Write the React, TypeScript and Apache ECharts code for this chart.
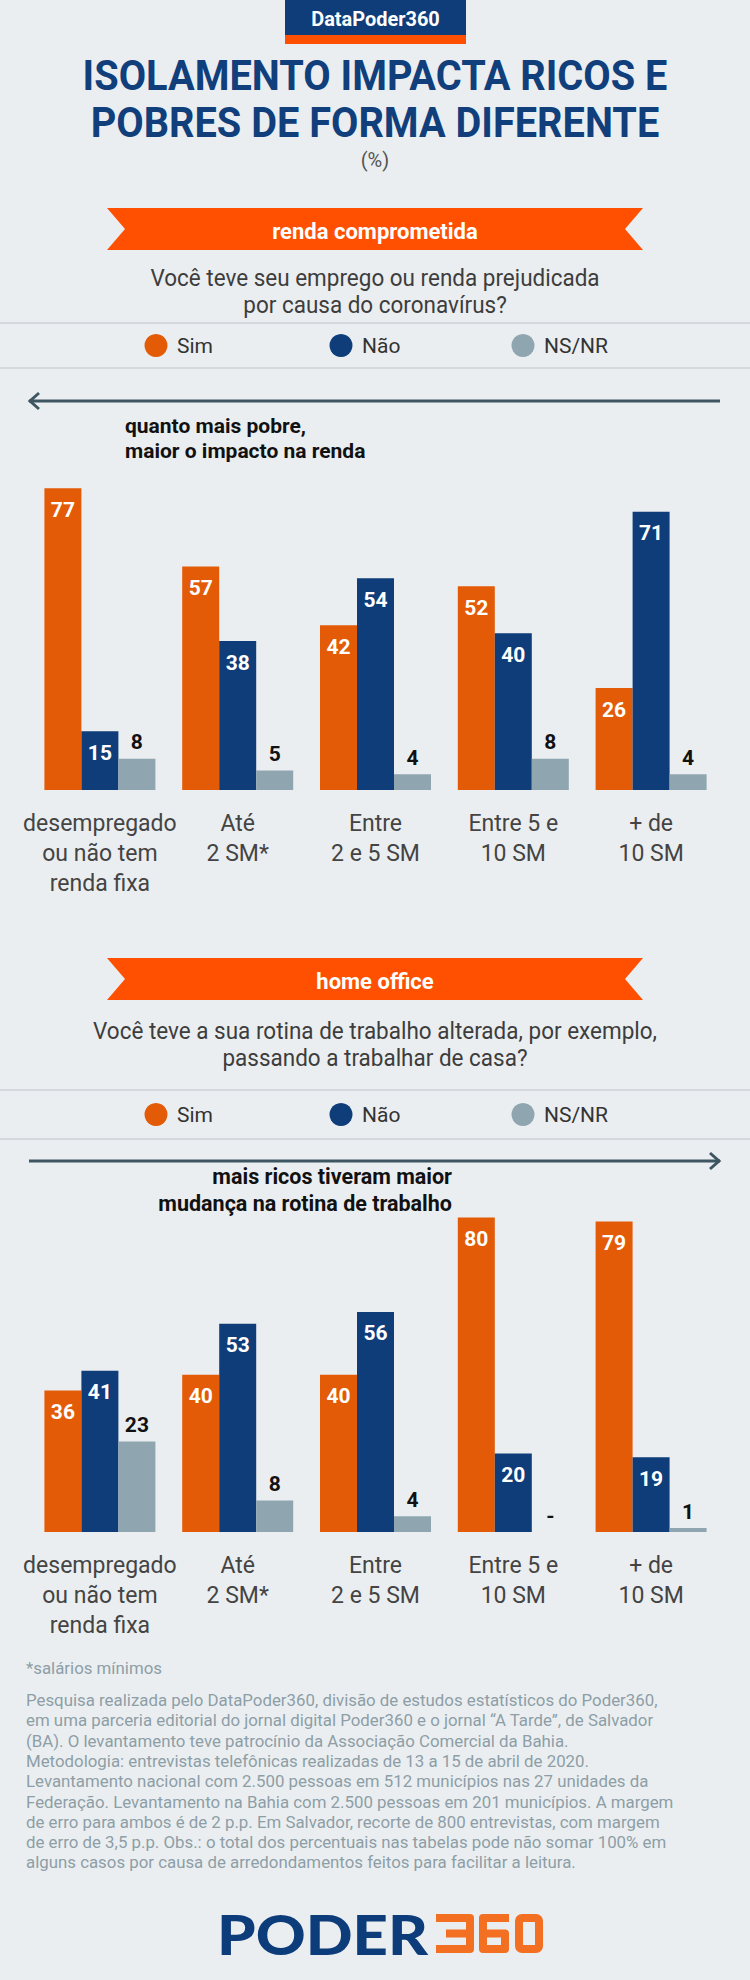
import React, { useEffect, useRef } from "react";
import * as echarts from "echarts";

// ---- data ----
const categories = [
  "desempregado\nou não tem\nrenda fixa",
  "Até\n2 SM*",
  "Entre\n2 e 5 SM",
  "Entre 5 e\n10 SM",
  "+ de\n10 SM",
];
const legendLabels = ["Sim", "Não", "NS/NR"];

// renda comprometida
const rendaSim = [77, 57, 42, 52, 26];
const rendaNao = [15, 38, 54, 40, 71];
const rendaNsnr = [8, 5, 4, 8, 4];

// home office (0 = sem resposta, shown as "-")
const homeSim = [36, 40, 40, 80, 79];
const homeNao = [41, 53, 56, 20, 19];
const homeNsnr = [23, 8, 4, 0, 1];

const footnote = "*salários mínimos";
const methodology = [
  "Pesquisa realizada pelo DataPoder360, divisão de estudos estatísticos do Poder360,",
  "em uma parceria editorial do jornal digital Poder360 e o jornal “A Tarde”, de Salvador",
  "(BA). O levantamento teve patrocínio da Associação Comercial da Bahia.",
  "Metodologia: entrevistas telefônicas realizadas de 13 a 15 de abril de 2020.",
  "Levantamento nacional com 2.500 pessoas em 512 municípios nas 27 unidades da",
  "Federação. Levantamento na Bahia com 2.500 pessoas em 201 municípios. A margem",
  "de erro para ambos é de 2 p.p. Em Salvador, recorte de 800 entrevistas, com margem",
  "de erro de 3,5 p.p. Obs.: o total dos percentuais nas tabelas pode não somar 100% em",
  "alguns casos por causa de arredondamentos feitos para facilitar a leitura.",
];

// ---- styling ----
const BG = "#ebeef0";
const SIM = "#e35b06";
const NAO = "#0e3d7a";
const NSNR = "#8fa6b1";
const NAVY = "#113f7c";
const BANNER = "#fe5000";
const TEXT = "#3d3d3d";
const FOOT = "#8d9ea7";
const ARROW = "#3d5661";

const measureCtx = document.createElement("canvas").getContext("2d");
function measure(text: string, size: number, weight: string, family: string) {
  if (!measureCtx) return 0;
  measureCtx.font = `${weight} ${size}px ${family}`;
  return measureCtx.measureText(text).width;
}

type TxtOpts = {
  size: number;
  weight?: string;
  family?: string;
  color: string;
  align?: string;
  va?: string;
  scale?: number;
};

function txt(text: string, x: number, y: number, o: TxtOpts) {
  const align = o.align || "center";
  const va = o.va || "middle";
  return {
    type: "text",
    x,
    y,
    scaleX: o.scale || 1,
    silent: true,
    style: {
      text,
      fill: o.color,
      fontSize: o.size,
      fontWeight: o.weight || "normal",
      fontFamily: o.family || "Roboto",
      align,
      verticalAlign: va,
      textAlign: align,
      textVerticalAlign: va,
    },
  };
}

function banner(top: number, label: string) {
  const b = top + 42;
  const m = top + 21;
  return [
    {
      type: "polygon",
      silent: true,
      shape: {
        points: [
          [107, top],
          [643, top],
          [625, m],
          [643, b],
          [107, b],
          [125, m],
        ],
      },
      style: { fill: BANNER },
    },
    txt(label, 375, m + 2, { size: 22, weight: "bold", color: "#ffffff" }),
  ];
}

function legendRow(lineTop: number, lineBottom: number) {
  const cy = (lineTop + lineBottom) / 2;
  const dots = [156, 341, 523];
  const colors = [SIM, NAO, NSNR];
  const els: any[] = [
    { type: "line", silent: true, shape: { x1: 0, y1: lineTop, x2: 750, y2: lineTop }, style: { stroke: "#d3d9dc", lineWidth: 2 } },
    { type: "line", silent: true, shape: { x1: 0, y1: lineBottom, x2: 750, y2: lineBottom }, style: { stroke: "#d3d9dc", lineWidth: 2 } },
  ];
  legendLabels.forEach((l, i) => {
    els.push({ type: "circle", silent: true, shape: { cx: dots[i], cy, r: 11.5 }, style: { fill: colors[i] } });
    els.push(txt(l, dots[i] + 21, cy, { size: 21, color: "#333", align: "left" }));
  });
  return els;
}

function arrow(y: number, dir: "left" | "right") {
  const chevron =
    dir === "left"
      ? [[39, y - 8], [30, y], [39, y + 8]]
      : [[710, y - 8], [719, y], [710, y + 8]];
  return [
    { type: "line", silent: true, shape: { x1: 29, y1: y, x2: 720, y2: y }, style: { stroke: ARROW, lineWidth: 3 } },
    { type: "polyline", silent: true, shape: { points: chevron }, style: { stroke: ARROW, lineWidth: 3, fill: null, lineJoin: "miter" } },
  ];
}

function buildGraphics() {
  const titleL1 = "ISOLAMENTO IMPACTA RICOS E";
  const titleL2 = "POBRES DE FORMA DIFERENTE";
  const titleScale = 585 / (measure(titleL1, 42, "bold", "Roboto") || 585);

  const q1 = ["Você teve seu emprego ou renda prejudicada", "por causa do coronavírus?"];
  const q2 = ["Você teve a sua rotina de trabalho alterada, por exemplo,", "passando a trabalhar de casa?"];
  const qScale = 564 / (measure(q2[0], 24, "normal", "Roboto") || 564);

  const footScale = 648 / (measure(methodology[5], 17, "normal", "Roboto") || 648);
  const poderScale = 211 / (measure("PODER", 56, "900", "Lato") || 211);

  const els: any[] = [];

  // header tag
  els.push({ type: "rect", silent: true, shape: { x: 285, y: 0, width: 181, height: 35 }, style: { fill: "#0f3d79" } });
  els.push({ type: "rect", silent: true, shape: { x: 285, y: 35, width: 181, height: 9 }, style: { fill: BANNER } });
  els.push(txt("DataPoder360", 375.5, 19, { size: 21, weight: "bold", color: "#ffffff", scale: 0.95 }));

  // title
  els.push(txt(titleL1, 375, 76, { size: 42, weight: "bold", color: NAVY, scale: titleScale }));
  els.push(txt(titleL2, 375, 123, { size: 42, weight: "bold", color: NAVY, scale: titleScale }));
  els.push(txt("(%)", 375, 160, { size: 20, color: "#555" }));

  // section 1
  els.push(...banner(208, "renda comprometida"));
  els.push(txt(q1[0], 375, 278, { size: 24, color: TEXT, scale: qScale }));
  els.push(txt(q1[1], 375, 305, { size: 24, color: TEXT, scale: qScale }));
  els.push(...legendRow(323, 368));
  els.push(...arrow(401, "left"));
  els.push(txt("quanto mais pobre,", 125, 426, { size: 21, weight: "bold", color: "#111", align: "left" }));
  els.push(txt("maior o impacto na renda", 125, 451, { size: 21, weight: "bold", color: "#111", align: "left" }));

  // section 2
  els.push(...banner(958, "home office"));
  els.push(txt(q2[0], 375, 1031, { size: 24, color: TEXT, scale: qScale }));
  els.push(txt(q2[1], 375, 1058, { size: 24, color: TEXT, scale: qScale }));
  els.push(...legendRow(1090, 1139));
  els.push(...arrow(1161, "right"));
  els.push(txt("mais ricos tiveram maior", 452, 1176, { size: 21.5, weight: "bold", color: "#111", align: "right" }));
  els.push(txt("mudança na rotina de trabalho", 452, 1203, { size: 21.5, weight: "bold", color: "#111", align: "right" }));

  // footer
  els.push(txt(footnote, 26, 1668, { size: 17, color: FOOT, align: "left", scale: footScale }));
  methodology.forEach((line, i) => {
    els.push(txt(line, 26, 1700 + i * 20.3, { size: 17, color: FOOT, align: "left", scale: footScale }));
  });

  // logo
  els.push(txt("PODER", 217, 1934, { size: 56, weight: "900", family: "Lato", color: "#0d3c7a", align: "left", scale: poderScale }));
  const orange = "#f36f21";
  const digit = { stroke: orange, lineWidth: 8, fill: null, lineJoin: "round", lineCap: "butt" };
  els.push({ type: "polyline", silent: true, shape: { points: [[436, 1918], [470, 1918], [470, 1949], [436, 1949]] }, style: digit });
  els.push({ type: "polyline", silent: true, shape: { points: [[446, 1933.5], [470, 1933.5]] }, style: digit });
  els.push({ type: "polyline", silent: true, shape: { points: [[509, 1918], [483, 1918], [483, 1949], [505, 1949], [505, 1933.5], [483, 1933.5]] }, style: digit });
  els.push({ type: "rect", silent: true, shape: { x: 519, y: 1918, width: 20, height: 31, r: 3 }, style: digit });

  return els;
}

const insideLabel = {
  show: true,
  position: "insideTop",
  distance: 11,
  color: "#ffffff",
  fontSize: 21,
  fontWeight: "bold",
  fontFamily: "Roboto",
};
const topLabel = {
  show: true,
  position: "top",
  distance: 6,
  color: "#111111",
  fontSize: 21,
  fontWeight: "bold",
  fontFamily: "Roboto",
  formatter: (p: any) => (p.value === 0 ? "-" : String(p.value)),
};

function barSeries(idx: number, sim: number[], nao: number[], nsnr: number[]) {
  const common = { type: "bar", xAxisIndex: idx, yAxisIndex: idx, barWidth: 37, barGap: "0%", silent: true };
  return [
    { ...common, name: legendLabels[0], data: sim, itemStyle: { color: SIM }, label: insideLabel },
    { ...common, name: legendLabels[1], data: nao, itemStyle: { color: NAO }, label: insideLabel },
    { ...common, name: legendLabels[2], data: nsnr, itemStyle: { color: NSNR }, label: topLabel },
  ];
}

function categoryAxis(idx: number) {
  return {
    gridIndex: idx,
    type: "category",
    data: categories,
    axisLine: { show: false },
    axisTick: { show: false },
    axisLabel: {
      interval: 0,
      margin: 18,
      fontSize: 23,
      lineHeight: 30,
      color: "#444444",
      fontFamily: "Roboto",
    },
  };
}

export default function App() {
  const ref = useRef<HTMLDivElement>(null);

  useEffect(() => {
    document.body.style.margin = "0";
    document.body.style.background = BG;
    if (!ref.current) return;
    const chart = echarts.init(ref.current, null, { renderer: "svg", width: 750, height: 1980 });
    chart.setOption({
      animation: false,
      backgroundColor: BG,
      textStyle: { fontFamily: "Roboto" },
      grid: [
        { left: 31, width: 689, top: 398, height: 392 },
        { left: 31, width: 689, top: 1139, height: 393 },
      ],
      xAxis: [categoryAxis(0), categoryAxis(1)],
      yAxis: [
        { gridIndex: 0, type: "value", min: 0, max: 100, show: false },
        { gridIndex: 1, type: "value", min: 0, max: 100, show: false },
      ],
      series: [
        ...barSeries(0, rendaSim, rendaNao, rendaNsnr),
        ...barSeries(1, homeSim, homeNao, homeNsnr),
      ],
      graphic: { elements: buildGraphics() },
    });
    return () => chart.dispose();
  }, []);

  return <div ref={ref} style={{ width: 750, height: 1980, background: BG }} />;
}
